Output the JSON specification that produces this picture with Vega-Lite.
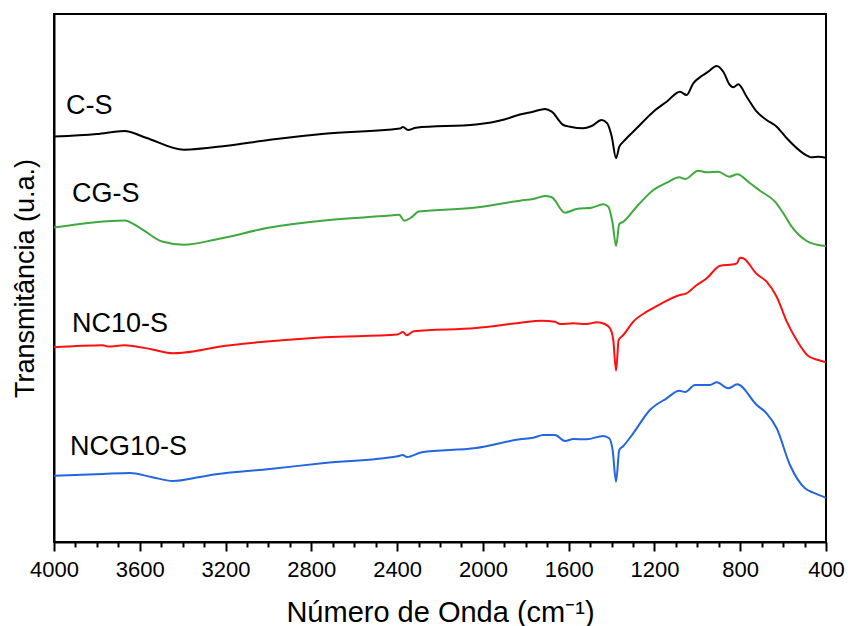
{
  "$schema": "https://vega.github.io/schema/vega-lite/v6.json",
  "width": 772,
  "height": 528,
  "autosize": {"type": "none"},
  "padding": {"left": 54, "top": 14, "right": 22, "bottom": 84},
  "background": "white",
  "config": {
    "view": {"stroke": "black", "strokeWidth": 2},
    "font": "Liberation Sans",
    "axis": {"grid": false, "domainColor": "black", "domainWidth": 2, "tickColor": "black", "labelColor": "black", "titleColor": "black", "titleFontWeight": "normal", "labelFont": "Liberation Sans", "titleFont": "Liberation Sans"}
  },
  "datasets": {
    "spectra": [
      {"s": "C-S", "w": 4000, "t": 405.5}, {"s": "C-S", "w": 3800, "t": 408}, {"s": "C-S", "w": 3672, "t": 411}, {"s": "C-S", "w": 3571, "t": 404.3},
      {"s": "C-S", "w": 3394, "t": 392.3}, {"s": "C-S", "w": 3193, "t": 396.3}, {"s": "C-S", "w": 2993, "t": 402.3}, {"s": "C-S", "w": 2739, "t": 408.3},
      {"s": "C-S", "w": 2387, "t": 413.5}, {"s": "C-S", "w": 2373, "t": 415}, {"s": "C-S", "w": 2349, "t": 412}, {"s": "C-S", "w": 2312, "t": 414.3},
      {"s": "C-S", "w": 2032, "t": 417.5}, {"s": "C-S", "w": 1900, "t": 422.5}, {"s": "C-S", "w": 1827, "t": 427.5}, {"s": "C-S", "w": 1766, "t": 430.3},
      {"s": "C-S", "w": 1710, "t": 433}, {"s": "C-S", "w": 1679, "t": 430.3}, {"s": "C-S", "w": 1625, "t": 417}, {"s": "C-S", "w": 1594, "t": 415.3},
      {"s": "C-S", "w": 1533, "t": 413.7}, {"s": "C-S", "w": 1493, "t": 416}, {"s": "C-S", "w": 1446, "t": 422}, {"s": "C-S", "w": 1420, "t": 418.7},
      {"s": "C-S", "w": 1399, "t": 405.3}, {"s": "C-S", "w": 1379, "t": 383.7}, {"s": "C-S", "w": 1364, "t": 395.3}, {"s": "C-S", "w": 1345, "t": 400.3},
      {"s": "C-S", "w": 1283, "t": 413.7}, {"s": "C-S", "w": 1205, "t": 430.3}, {"s": "C-S", "w": 1143, "t": 440.3}, {"s": "C-S", "w": 1081, "t": 450.3},
      {"s": "C-S", "w": 1050, "t": 447}, {"s": "C-S", "w": 1019, "t": 458.7}, {"s": "C-S", "w": 980, "t": 466}, {"s": "C-S", "w": 949, "t": 470.3},
      {"s": "C-S", "w": 910, "t": 476}, {"s": "C-S", "w": 879, "t": 470.3}, {"s": "C-S", "w": 848, "t": 457}, {"s": "C-S", "w": 832, "t": 454.7},
      {"s": "C-S", "w": 809, "t": 457.7}, {"s": "C-S", "w": 770, "t": 445.3}, {"s": "C-S", "w": 723, "t": 430.3}, {"s": "C-S", "w": 677, "t": 422},
      {"s": "C-S", "w": 630, "t": 415.3}, {"s": "C-S", "w": 583, "t": 403.7}, {"s": "C-S", "w": 506, "t": 388.7}, {"s": "C-S", "w": 467, "t": 384.7},
      {"s": "C-S", "w": 436, "t": 385.3}, {"s": "C-S", "w": 400, "t": 384.3},

      {"s": "CG-S", "w": 4000, "t": 314.5}, {"s": "CG-S", "w": 3672, "t": 321.6}, {"s": "CG-S", "w": 3596, "t": 313.7}, {"s": "CG-S", "w": 3496, "t": 300.5},
      {"s": "CG-S", "w": 3394, "t": 297.3}, {"s": "CG-S", "w": 3245, "t": 302.5}, {"s": "CG-S", "w": 2993, "t": 314.5}, {"s": "CG-S", "w": 2739, "t": 321.6},
      {"s": "CG-S", "w": 2436, "t": 326.4}, {"s": "CG-S", "w": 2391, "t": 327.2}, {"s": "CG-S", "w": 2366, "t": 321.2}, {"s": "CG-S", "w": 2335, "t": 324.4},
      {"s": "CG-S", "w": 2298, "t": 330.4}, {"s": "CG-S", "w": 2032, "t": 334.4}, {"s": "CG-S", "w": 1855, "t": 340.4}, {"s": "CG-S", "w": 1827, "t": 341.3},
      {"s": "CG-S", "w": 1765, "t": 343}, {"s": "CG-S", "w": 1710, "t": 346}, {"s": "CG-S", "w": 1679, "t": 344.7}, {"s": "CG-S", "w": 1617, "t": 329.3},
      {"s": "CG-S", "w": 1563, "t": 333}, {"s": "CG-S", "w": 1493, "t": 334.3}, {"s": "CG-S", "w": 1439, "t": 337.7}, {"s": "CG-S", "w": 1415, "t": 335.3},
      {"s": "CG-S", "w": 1395, "t": 318.7}, {"s": "CG-S", "w": 1379, "t": 296}, {"s": "CG-S", "w": 1364, "t": 318}, {"s": "CG-S", "w": 1345, "t": 320.3},
      {"s": "CG-S", "w": 1283, "t": 335.3}, {"s": "CG-S", "w": 1205, "t": 352}, {"s": "CG-S", "w": 1143, "t": 359.3}, {"s": "CG-S", "w": 1084, "t": 364.7},
      {"s": "CG-S", "w": 1057, "t": 363}, {"s": "CG-S", "w": 996, "t": 371.3}, {"s": "CG-S", "w": 956, "t": 369.7}, {"s": "CG-S", "w": 902, "t": 370.3},
      {"s": "CG-S", "w": 851, "t": 365.3}, {"s": "CG-S", "w": 814, "t": 367.7}, {"s": "CG-S", "w": 754, "t": 358.7}, {"s": "CG-S", "w": 708, "t": 351.3},
      {"s": "CG-S", "w": 638, "t": 340.3}, {"s": "CG-S", "w": 599, "t": 328.7}, {"s": "CG-S", "w": 560, "t": 315.3}, {"s": "CG-S", "w": 490, "t": 301},
      {"s": "CG-S", "w": 436, "t": 297}, {"s": "CG-S", "w": 400, "t": 296},

      {"s": "NC10-S", "w": 4000, "t": 194.7}, {"s": "NC10-S", "w": 3772, "t": 196.7}, {"s": "NC10-S", "w": 3748, "t": 195.5}, {"s": "NC10-S", "w": 3672, "t": 196.7},
      {"s": "NC10-S", "w": 3546, "t": 192.7}, {"s": "NC10-S", "w": 3445, "t": 188.7}, {"s": "NC10-S", "w": 3344, "t": 190.7}, {"s": "NC10-S", "w": 3245, "t": 194.7},
      {"s": "NC10-S", "w": 2993, "t": 200.7}, {"s": "NC10-S", "w": 2739, "t": 204.7}, {"s": "NC10-S", "w": 2398, "t": 207.5}, {"s": "NC10-S", "w": 2373, "t": 210},
      {"s": "NC10-S", "w": 2355, "t": 206.7}, {"s": "NC10-S", "w": 2323, "t": 210.7}, {"s": "NC10-S", "w": 2032, "t": 214}, {"s": "NC10-S", "w": 1832, "t": 219},
      {"s": "NC10-S", "w": 1726, "t": 221.3}, {"s": "NC10-S", "w": 1664, "t": 220.3}, {"s": "NC10-S", "w": 1640, "t": 218}, {"s": "NC10-S", "w": 1578, "t": 218.7},
      {"s": "NC10-S", "w": 1516, "t": 218}, {"s": "NC10-S", "w": 1469, "t": 219.7}, {"s": "NC10-S", "w": 1431, "t": 218}, {"s": "NC10-S", "w": 1407, "t": 213.7},
      {"s": "NC10-S", "w": 1392, "t": 202}, {"s": "NC10-S", "w": 1379, "t": 171.3}, {"s": "NC10-S", "w": 1367, "t": 202}, {"s": "NC10-S", "w": 1345, "t": 207},
      {"s": "NC10-S", "w": 1299, "t": 220.3}, {"s": "NC10-S", "w": 1236, "t": 230.3}, {"s": "NC10-S", "w": 1174, "t": 237.7}, {"s": "NC10-S", "w": 1081, "t": 247},
      {"s": "NC10-S", "w": 1054, "t": 248.3}, {"s": "NC10-S", "w": 1003, "t": 257}, {"s": "NC10-S", "w": 956, "t": 263.7}, {"s": "NC10-S", "w": 894, "t": 276.3},
      {"s": "NC10-S", "w": 832, "t": 277.7}, {"s": "NC10-S", "w": 816, "t": 278.7}, {"s": "NC10-S", "w": 801, "t": 284.3}, {"s": "NC10-S", "w": 786, "t": 283.7},
      {"s": "NC10-S", "w": 723, "t": 268}, {"s": "NC10-S", "w": 677, "t": 260.3}, {"s": "NC10-S", "w": 630, "t": 245.3}, {"s": "NC10-S", "w": 583, "t": 220.3},
      {"s": "NC10-S", "w": 537, "t": 202}, {"s": "NC10-S", "w": 483, "t": 186}, {"s": "NC10-S", "w": 436, "t": 182}, {"s": "NC10-S", "w": 400, "t": 179.7},

      {"s": "NCG10-S", "w": 4000, "t": 66.2}, {"s": "NCG10-S", "w": 3772, "t": 68.1}, {"s": "NCG10-S", "w": 3647, "t": 69}, {"s": "NCG10-S", "w": 3546, "t": 65},
      {"s": "NCG10-S", "w": 3445, "t": 61}, {"s": "NCG10-S", "w": 3319, "t": 65}, {"s": "NCG10-S", "w": 3245, "t": 67.7}, {"s": "NCG10-S", "w": 2993, "t": 73},
      {"s": "NCG10-S", "w": 2739, "t": 79}, {"s": "NCG10-S", "w": 2398, "t": 85.7}, {"s": "NCG10-S", "w": 2373, "t": 87}, {"s": "NCG10-S", "w": 2355, "t": 85},
      {"s": "NCG10-S", "w": 2285, "t": 89.7}, {"s": "NCG10-S", "w": 2032, "t": 94}, {"s": "NCG10-S", "w": 1827, "t": 102.7}, {"s": "NCG10-S", "w": 1765, "t": 104.3},
      {"s": "NCG10-S", "w": 1718, "t": 107}, {"s": "NCG10-S", "w": 1664, "t": 107}, {"s": "NCG10-S", "w": 1617, "t": 101}, {"s": "NCG10-S", "w": 1578, "t": 103},
      {"s": "NCG10-S", "w": 1516, "t": 102.7}, {"s": "NCG10-S", "w": 1439, "t": 106}, {"s": "NCG10-S", "w": 1411, "t": 103.7}, {"s": "NCG10-S", "w": 1395, "t": 92},
      {"s": "NCG10-S", "w": 1379, "t": 60.3}, {"s": "NCG10-S", "w": 1364, "t": 92}, {"s": "NCG10-S", "w": 1345, "t": 96}, {"s": "NCG10-S", "w": 1299, "t": 108.7},
      {"s": "NCG10-S", "w": 1221, "t": 132}, {"s": "NCG10-S", "w": 1143, "t": 143.7}, {"s": "NCG10-S", "w": 1084, "t": 151.3}, {"s": "NCG10-S", "w": 1057, "t": 150},
      {"s": "NCG10-S", "w": 1011, "t": 157}, {"s": "NCG10-S", "w": 941, "t": 157}, {"s": "NCG10-S", "w": 910, "t": 159.7}, {"s": "NCG10-S", "w": 856, "t": 153.7},
      {"s": "NCG10-S", "w": 814, "t": 157.7}, {"s": "NCG10-S", "w": 723, "t": 137}, {"s": "NCG10-S", "w": 677, "t": 128.7}, {"s": "NCG10-S", "w": 630, "t": 113.7},
      {"s": "NCG10-S", "w": 568, "t": 77}, {"s": "NCG10-S", "w": 498, "t": 53.7}, {"s": "NCG10-S", "w": 459, "t": 49.3}, {"s": "NCG10-S", "w": 400, "t": 44.3}
    ],
    "names": [
      {"s": "C-S", "w": 3944, "t": 428},
      {"s": "CG-S", "w": 3916, "t": 340},
      {"s": "NC10-S", "w": 3916, "t": 210},
      {"s": "NCG10-S", "w": 3925, "t": 87}
    ]
  },
  "layer": [
    {
      "data": {"name": "spectra"},
      "mark": {"type": "line", "strokeWidth": 2, "interpolate": "monotone", "clip": true},
      "encoding": {
        "x": {
          "field": "w", "type": "quantitative",
          "scale": {"domain": [400, 4000], "reverse": true, "nice": false, "zero": false},
          "axis": {
            "orient": "bottom",
            "values": [4000, 3600, 3200, 2800, 2400, 2000, 1600, 1200, 800, 400],
            "format": "d", "tickSize": 9, "tickWidth": 2,
            "labelFontSize": 22, "labelPadding": 8, "labelFlush": false, "labelOverlap": false,
            "title": "Número de Onda (cm⁻¹)", "titleFontSize": 29, "titlePadding": 18
          }
        },
        "y": {
          "field": "t", "type": "quantitative",
          "scale": {"domain": [0, 528], "nice": false, "zero": false},
          "axis": {"ticks": false, "labels": false, "title": "Transmitância (u.a.)", "titleFontSize": 27, "titlePadding": 15}
        },
        "color": {
          "field": "s", "type": "nominal",
          "scale": {"domain": ["C-S", "CG-S", "NC10-S", "NCG10-S"], "range": ["#000000", "#3fa83f", "#ff1010", "#2366e0"]},
          "legend": null
        }
      }
    },
    {
      "data": {"name": "names"},
      "mark": {"type": "text", "align": "left", "baseline": "alphabetic", "fontSize": 27, "font": "Liberation Sans", "color": "black"},
      "encoding": {
        "x": {
          "field": "w", "type": "quantitative",
          "axis": {
            "orient": "bottom", "domain": false, "labels": false, "title": null,
            "values": [3900, 3800, 3700, 3500, 3400, 3300, 3100, 3000, 2900, 2700, 2600, 2500, 2300, 2200, 2100, 1900, 1800, 1700, 1500, 1400, 1300, 1100, 1000, 900, 700, 600, 500],
            "tickSize": 5, "tickWidth": 2
          }
        },
        "y": {"field": "t", "type": "quantitative"},
        "text": {"field": "s"}
      }
    }
  ],
  "resolve": {"axis": {"x": "independent"}}
}
